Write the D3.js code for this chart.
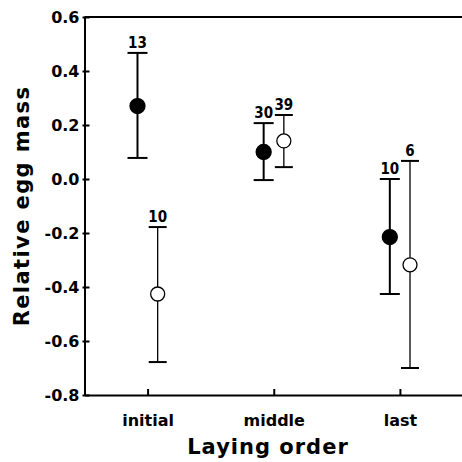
<!DOCTYPE html>
<html>
<head>
<meta charset="utf-8">
<script src="https://cdn.jsdelivr.net/npm/d3@7"></script>
<style>
  html, body { margin: 0; padding: 0; background: #fff; }
  svg { display: block; }
</style>
</head>
<body>
<script>
// ---- data ----
const categories = ["initial", "middle", "last"];
const filledMean  = [0.27, 0.10, -0.215];
const filledUpper = [0.467, 0.207, 0.0];
const filledLower = [0.078, -0.004, -0.426];
const filledN     = [13, 30, 10];
const openMean    = [-0.426, 0.141, -0.318];
const openUpper   = [-0.178, 0.237, 0.067];
const openLower   = [-0.678, 0.044, -0.70];
const openN       = [10, 39, 6];
const yTicks      = [0.6, 0.4, 0.2, 0.0, -0.2, -0.4, -0.6, -0.8];
const yTitle = "Relative egg mass";
const xTitle = "Laying order";

const W = 462, H = 462;
const svg = d3.select("body").append("svg").attr("width", W).attr("height", H);

const x = d3.scaleLinear().domain([0.5, 3.5]).range([84.5, 463]);
const y = d3.scaleLinear().domain([-0.8, 0.6]).range([395, 17]);

const tickFont = "'DejaVu Sans', sans-serif";

// y axis
const gy = svg.append("g").attr("transform", `translate(${x(0.5)},0)`)
  .call(d3.axisLeft(y).tickValues(yTicks).tickFormat(d => d.toFixed(1))
    .tickSize(-5).tickSizeOuter(0).tickPadding(5));
gy.select(".domain").attr("stroke-width", 2);
gy.selectAll(".tick line").attr("stroke-width", 2).attr("x1", -2);
gy.selectAll(".tick text").attr("font-family", tickFont).attr("font-weight", "bold")
  .attr("font-size", 16).attr("fill", "#000");

// x axis
const gx = svg.append("g").attr("transform", `translate(0,${y(-0.8)})`)
  .call(d3.axisBottom(x).tickValues([1, 2, 3]).tickFormat(d => categories[d - 1])
    .tickSize(-6).tickSizeOuter(0).tickPadding(20));
gx.select(".domain").attr("stroke-width", 2);
gx.selectAll(".tick line").attr("stroke-width", 2);
gx.selectAll(".tick text").attr("font-family", tickFont).attr("font-weight", "bold")
  .attr("font-size", 16).attr("fill", "#000");

// top frame line
svg.append("line").attr("x1", x(0.5)).attr("x2", x(3.5)).attr("y1", y(0.6)).attr("y2", y(0.6))
  .attr("stroke", "#000").attr("stroke-width", 2);

// titles
svg.append("text").attr("transform", `translate(29,${(y(0.6) + y(-0.8)) / 2}) rotate(-90)`)
  .attr("text-anchor", "middle").attr("font-family", tickFont).attr("font-weight", "bold")
  .attr("font-size", 21).attr("letter-spacing", 1.4).text(yTitle);
svg.append("text").attr("x", 268).attr("y", 454)
  .attr("text-anchor", "middle").attr("font-family", tickFont).attr("font-weight", "bold")
  .attr("font-size", 21).attr("letter-spacing", 1).text(xTitle);

// series
const off = 0.08;
const series = [
  { mean: filledMean, up: filledUpper, lo: filledLower, n: filledN, dx: -off, fill: "#000", sw: 2, cap: 10, r: 7.5 },
  { mean: openMean, up: openUpper, lo: openLower, n: openN, dx: off, fill: "#fff", sw: 1.3, cap: 9, r: 7 }
];

series.forEach(s => {
  const g = svg.append("g");
  const data = categories.map((c, i) => ({ i, m: s.mean[i], u: s.up[i], l: s.lo[i], n: s.n[i] }));
  const cx = d => x(d.i + 1 + s.dx);
  g.selectAll("line.v").data(data).join("line").attr("class", "v")
    .attr("x1", cx).attr("x2", cx).attr("y1", d => y(d.u)).attr("y2", d => y(d.l))
    .attr("stroke", "#000").attr("stroke-width", s.sw);
  g.selectAll("line.cu").data(data).join("line").attr("class", "cu")
    .attr("x1", d => cx(d) - s.cap).attr("x2", d => cx(d) + s.cap)
    .attr("y1", d => y(d.u)).attr("y2", d => y(d.u))
    .attr("stroke", "#000").attr("stroke-width", 2);
  g.selectAll("line.cl").data(data).join("line").attr("class", "cl")
    .attr("x1", d => cx(d) - s.cap).attr("x2", d => cx(d) + s.cap)
    .attr("y1", d => y(d.l)).attr("y2", d => y(d.l))
    .attr("stroke", "#000").attr("stroke-width", 2);
  g.selectAll("circle").data(data).join("circle")
    .attr("cx", cx).attr("cy", d => y(d.m)).attr("r", s.r)
    .attr("fill", s.fill).attr("stroke", "#000").attr("stroke-width", 1.3);
  g.selectAll("text").data(data).join("text")
    .attr("x", cx).attr("y", d => y(d.u) - 5)
    .attr("text-anchor", "middle")
    .attr("font-family", "'DejaVu Sans Condensed', 'DejaVu Sans', sans-serif")
    .attr("font-stretch", "condensed")
    .attr("font-weight", "bold").attr("font-size", 15)
    .text(d => d.n);
});
</script>
</body>
</html>
